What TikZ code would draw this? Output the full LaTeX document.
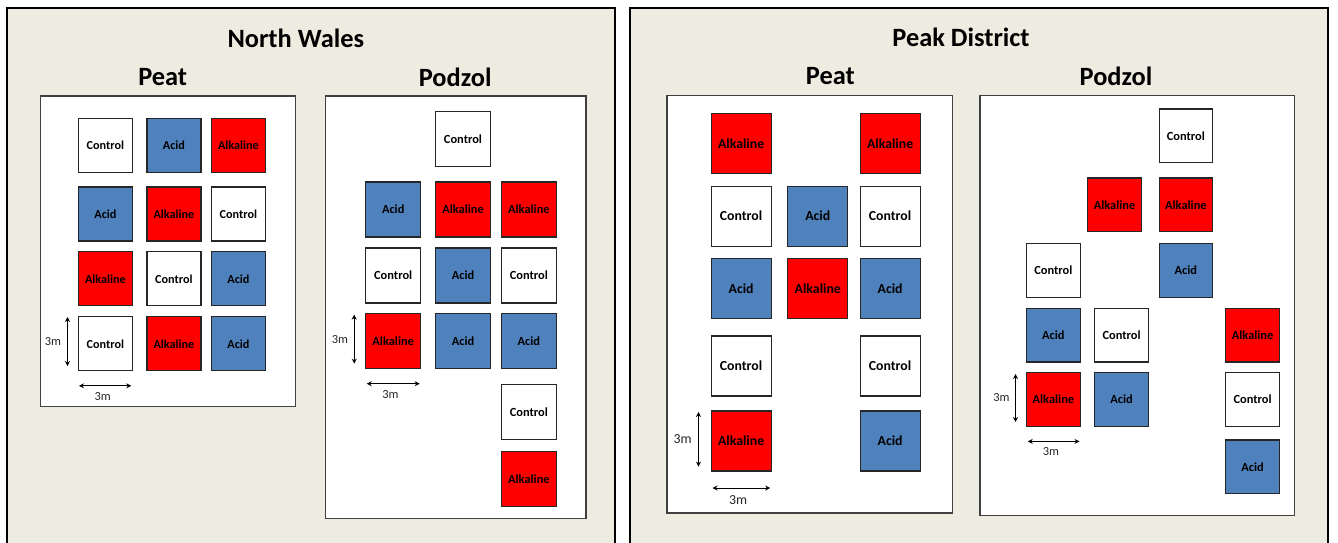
\documentclass[tikz,border=0pt]{standalone}
\usepackage{fontspec}
\setmainfont{Carlito}
\usetikzlibrary{arrows.meta}
\definecolor{beige}{HTML}{EEECE1}
\definecolor{plotblue}{HTML}{4F81BD}
\definecolor{plotred}{HTML}{FF0000}
\tikzset{
  panel/.style={draw=black, line width=2pt, fill=beige},
  site/.style={draw=black!75, line width=1.3pt, fill=white},
  plotbox/.style={draw=black!85, line width=1.2pt, inner sep=0pt, font=\bfseries\fontsize{#1}{#1}\selectfont, text=black},
  ctl/.style={fill=white},
  acid/.style={fill=plotblue},
  alk/.style={fill=plotred},
  title/.style={font=\bfseries\fontsize{26.4}{27}\selectfont, inner sep=0pt},
  dimarrow/.style={line width=1pt, {Stealth[length=5pt,width=5pt]}-{Stealth[length=5pt,width=5pt]}},
  dimlabel/.style={inner sep=0pt, text=black!85, font=\fontsize{#1}{#1}\selectfont},
}
\begin{document}
\begin{tikzpicture}[x=1pt,y=-1pt]
\useasboundingbox (0,0) rectangle (1338,542);
\clip (0,0) rectangle (1338,542);
\fill[white] (0,0) rectangle (1338,542);
% panels
\draw[panel] (7,7.5) rectangle (615,570);
\draw[panel] (630,7.5) rectangle (1328,570);
\node[title] (nwt) at (295.8,38) {North Wales};
\node[title] (pdt) at (961,37) {Peak District};
\node[title] (nwpt) at (162.7,77) {Peat};
\node[title] (nwzt) at (455.2,77) {Podzol};
\node[title] (pdpt) at (830.4,76) {Peat};
\node[title] (pdzt) at (1116,76) {Podzol};
% site boxes
\draw[site] (40.2,96.1) rectangle (295.6,406.5);
\draw[site] (325.7,96) rectangle (586,518.8);
\draw[site] (667,95.7) rectangle (952.4,513);
\draw[site] (979.9,95.7) rectangle (1294.6,515.5);
% ---------- North Wales Peat (54) ----------
\begin{scope}[every node/.style={plotbox=12.2, minimum size=54pt}]
\node[ctl]  (a11) at (105.4,145.4) {Control};
\node[acid] (a12) at (173.9,145.4) {Acid};
\node[alk]  (a13) at (238.4,145.4) {Alkaline};
\node[acid] (a21) at (105.4,214) {Acid};
\node[alk]  (a22) at (173.9,214) {Alkaline};
\node[ctl]  (a23) at (238.4,214) {Control};
\node[alk]  (a31) at (105.4,278.8) {Alkaline};
\node[ctl]  (a32) at (173.9,278.8) {Control};
\node[acid] (a33) at (238.4,278.8) {Acid};
\node[ctl]  (a41) at (105.4,343.8) {Control};
\node[alk]  (a42) at (173.9,343.8) {Alkaline};
\node[acid] (a43) at (238.4,343.8) {Acid};
\end{scope}
\coordinate (av1) at (67.5,317);
\coordinate (av2) at (67.5,366);
\coordinate (ah1) at (79,385.8);
\coordinate (ah2) at (131.3,385.8);
\draw[dimarrow] (av1) -- (av2);
\draw[dimarrow] (ah1) -- (ah2);
\node[dimlabel=12.4] (avl) at (53,342) {3m};
\node[dimlabel=12.4] (ahl) at (102.8,396.5) {3m};
% ---------- North Wales Podzol (55) ----------
\begin{scope}[every node/.style={plotbox=12.4, minimum size=55pt}]
\node[ctl]  (b12) at (463,139) {Control};
\node[acid] (b21) at (393.2,209.4) {Acid};
\node[alk]  (b22) at (463,209.4) {Alkaline};
\node[alk]  (b23) at (528.9,209.4) {Alkaline};
\node[ctl]  (b31) at (393.2,275.4) {Control};
\node[acid] (b32) at (463,275.4) {Acid};
\node[ctl]  (b33) at (528.9,275.4) {Control};
\node[alk]  (b41) at (393.2,340.8) {Alkaline};
\node[acid] (b42) at (463,340.8) {Acid};
\node[acid] (b43) at (528.9,340.8) {Acid};
\node[ctl]  (b53) at (528.9,411.7) {Control};
\node[alk]  (b63) at (528.9,478.7) {Alkaline};
\end{scope}
\coordinate (bv1) at (354.2,314.6);
\coordinate (bv2) at (354.2,363.6);
\coordinate (bh1) at (366.7,383.7);
\coordinate (bh2) at (419.7,383.7);
\draw[dimarrow] (bv1) -- (bv2);
\draw[dimarrow] (bh1) -- (bh2);
\node[dimlabel=12.4] (bvl) at (340,339.4) {3m};
\node[dimlabel=12.4] (bhl) at (390.4,394.4) {3m};
% ---------- Peak District Peat (60) ----------
\begin{scope}[every node/.style={plotbox=13.8, minimum size=60pt}]
\node[alk]  (c11) at (741.1,143.3) {Alkaline};
\node[alk]  (c13) at (890.1,143.3) {Alkaline};
\node[ctl]  (c21) at (741.1,216.2) {Control};
\node[acid] (c22) at (817.8,216.2) {Acid};
\node[ctl]  (c23) at (890.1,216.2) {Control};
\node[acid] (c31) at (741.1,288.5) {Acid};
\node[alk]  (c32) at (817.8,288.5) {Alkaline};
\node[acid] (c33) at (890.1,288.5) {Acid};
\node[ctl]  (c41) at (741.1,366) {Control};
\node[ctl]  (c43) at (890.1,366) {Control};
\node[alk]  (c51) at (741.1,440.9) {Alkaline};
\node[acid] (c53) at (890.1,440.9) {Acid};
\end{scope}
\coordinate (cv1) at (698.5,412);
\coordinate (cv2) at (698.5,466.6);
\coordinate (ch1) at (712.5,488);
\coordinate (ch2) at (770.2,488);
\draw[dimarrow] (cv1) -- (cv2);
\draw[dimarrow] (ch1) -- (ch2);
\node[dimlabel=13.8] (cvl) at (682.7,439) {3m};
\node[dimlabel=13.8] (chl) at (738.2,500) {3m};
% ---------- Peak District Podzol (53.5) ----------
\begin{scope}[every node/.style={plotbox=12.4, minimum size=53.5pt}]
\node[ctl]  (d13) at (1185.9,135.8) {Control};
\node[alk]  (d22) at (1114.6,204.8) {Alkaline};
\node[alk]  (d23) at (1185.9,204.8) {Alkaline};
\node[ctl]  (d31) at (1053.4,270.6) {Control};
\node[acid] (d33) at (1185.9,270.6) {Acid};
\node[acid] (d41) at (1053.4,335.3) {Acid};
\node[ctl]  (d42) at (1121.6,335.3) {Control};
\node[alk]  (d44) at (1252.6,335.3) {Alkaline};
\node[alk]  (d51) at (1053.4,399.5) {Alkaline};
\node[acid] (d52) at (1121.6,399.5) {Acid};
\node[ctl]  (d54) at (1252.6,399.5) {Control};
\node[acid] (d64) at (1252.6,466.8) {Acid};
\end{scope}
\coordinate (dv1) at (1015.5,374);
\coordinate (dv2) at (1015.5,422);
\coordinate (dh1) at (1027.7,441.4);
\coordinate (dh2) at (1079.5,441.4);
\draw[dimarrow] (dv1) -- (dv2);
\draw[dimarrow] (dh1) -- (dh2);
\node[dimlabel=12.4] (dvl) at (1001.5,398) {3m};
\node[dimlabel=12.4] (dhl) at (1051,452) {3m};
\end{tikzpicture}
\end{document}
